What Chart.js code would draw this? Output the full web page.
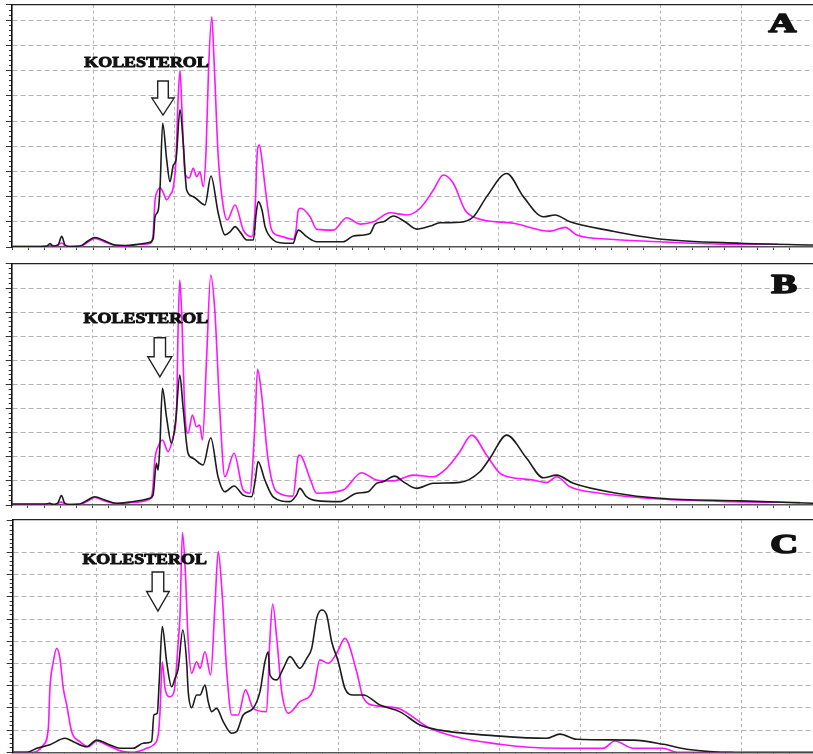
<!DOCTYPE html>
<html>
<head>
<meta charset="utf-8">
<script src="https://cdn.jsdelivr.net/npm/chart.js@4.4.1/dist/chart.umd.min.js"></script>
<style>
  html, body { margin: 0; padding: 0; background: #fff; }
  body { width: 813px; height: 754px; position: relative; overflow: hidden; }
  canvas { position: absolute; left: 0; }
  #chartA { top: 0; }
  #chartB { top: 255px; }
  #chartC { top: 512px; }
</style>
</head>
<body>
<canvas id="chartA" width="813" height="252"></canvas>
<canvas id="chartB" width="813" height="255"></canvas>
<canvas id="chartC" width="813" height="242"></canvas>
<script>
// retention time (min) and detector response
const timeBlackA = [0, 1.73, 2.16, 2.35, 2.53, 2.84, 3.07, 3.27, 3.58, 4.2, 4.69, 5.12, 5.74, 6.36, 6.98, 7.9, 8.52, 8.72, 8.83, 9.03, 9.14, 9.30, 9.55, 9.75, 9.96, 10.12, 10.37, 10.57, 10.78, 11.19, 11.91, 12.28, 12.73, 13.15, 13.46, 13.77, 14.07, 14.49, 14.9, 15.06, 15.2, 15.43, 15.62, 16.13, 16.54, 17.36, 17.53, 17.67, 18.19, 18.81, 20.45, 21.07, 22.1, 22.41, 22.92, 23.54, 24.26, 24.98, 25.8, 26.42, 27.65, 28.48, 29.3, 30.54, 31.56, 32.8, 33.52, 34.44, 36.91, 39.96, 44.98, 49.44];
const blackA = [0.2, 0.2, 0.4, 1.4, 0.4, 0.8, 4.2, 0.8, 0.2, 0.4, 2.4, 3.8, 2.4, 0.8, 0.6, 1.2, 1.9, 3.5, 12.0, 14.7, 23.9, 49.1, 34.5, 25.9, 32.5, 34.5, 54.6, 41.2, 22.6, 20.0, 16.7, 28.2, 13.4, 4.8, 6.0, 8.1, 6.0, 2.8, 2.8, 12.7, 18.0, 14.7, 8.1, 2.8, 1.7, 1.5, 4.8, 6.7, 4.1, 2.1, 2.1, 4.4, 5.4, 9.1, 10.0, 12.3, 10.0, 7.1, 8.3, 9.6, 9.8, 12.0, 20.0, 29.2, 20.0, 12.0, 12.7, 10.0, 6.5, 3.2, 1.5, 0.8];
const timeMagentaA = [0, 2.04, 2.35, 2.65, 3.07, 3.33, 4.2, 4.69, 5.12, 5.74, 6.36, 6.98, 7.9, 8.52, 8.7, 8.83, 8.95, 9.14, 9.32, 9.55, 9.75, 9.96, 10.12, 10.25, 10.37, 10.49, 10.68, 10.93, 11.19, 11.4, 11.6, 11.8, 11.98, 12.13, 12.33, 12.47, 12.73, 13.04, 13.28, 13.77, 14.28, 14.8, 15.0, 15.15, 15.27, 15.43, 15.62, 16.03, 16.54, 17.36, 17.53, 17.67, 17.82, 18.4, 18.81, 19.83, 20.66, 21.48, 22.3, 23.33, 24.36, 25.19, 26.01, 26.62, 27.24, 27.96, 28.69, 30.94, 33.21, 34.14, 34.86, 36.91, 39.96, 44.51, 47.28];
const magentaA = [0.2, 0.2, 0.8, 0.2, 1.6, 0.2, 0.2, 2.0, 3.4, 2.0, 0.6, 0.4, 1.0, 1.4, 4.4, 18.7, 21.8, 23.5, 21.8, 18.7, 20.6, 23.9, 34.5, 58.3, 70.2, 54.4, 29.2, 27.4, 31.2, 27.9, 29.9, 23.9, 38.5, 70.2, 91.4, 74.2, 35.8, 16.0, 10.7, 16.7, 6.7, 4.1, 14.7, 38.5, 40.5, 34.5, 23.9, 6.7, 4.4, 3.1, 6.7, 14.7, 15.4, 12.0, 7.0, 6.7, 11.6, 9.1, 10.0, 13.6, 12.7, 15.4, 22.6, 28.6, 25.3, 14.7, 11.4, 9.4, 6.3, 7.8, 4.8, 3.1, 2.1, 1.1, 1.1];

const timeBlackB = [0, 2.04, 2.35, 2.53, 2.84, 3.07, 3.27, 3.58, 4.2, 4.69, 5.12, 5.74, 6.46, 7.28, 8.52, 8.72, 8.93, 9.03, 9.14, 9.30, 9.55, 9.86, 10.12, 10.37, 10.57, 10.88, 11.19, 11.81, 12.28, 12.73, 13.15, 13.72, 14.28, 14.8, 15.03, 15.2, 15.62, 16.13, 17.16, 17.57, 17.78, 18.15, 18.81, 20.25, 21.28, 21.99, 22.51, 22.92, 23.64, 24.15, 24.98, 26.01, 27.65, 28.89, 29.51, 30.54, 31.77, 32.8, 33.62, 34.65, 37.33, 39.96, 44.98, 49.44];
const blackB = [0.4, 0.4, 0.7, 0.2, 0.8, 3.9, 0.8, 0.2, 0.4, 2.1, 3.4, 2.1, 0.7, 1.2, 2.8, 4.1, 17.3, 14.5, 24.2, 48.4, 36.6, 25.6, 35.3, 53.9, 40.8, 21.5, 19.4, 16.6, 27.9, 11.7, 5.5, 7.9, 4.1, 3.4, 10.4, 18.0, 10.4, 3.4, 1.4, 4.1, 6.9, 3.7, 1.8, 1.4, 4.9, 5.5, 9.0, 9.7, 12.0, 9.7, 6.9, 9.0, 9.4, 13.8, 19.4, 29.0, 19.4, 11.3, 12.4, 9.0, 4.9, 2.8, 1.7, 0.7];
const timeMagentaB = [0, 2.04, 2.35, 2.65, 3.07, 3.33, 4.2, 4.69, 5.12, 5.74, 6.46, 7.28, 8.52, 8.7, 8.83, 9.03, 9.30, 9.65, 9.96, 10.17, 10.27, 10.37, 10.48, 10.68, 10.88, 11.15, 11.4, 11.6, 11.77, 12.02, 12.28, 12.53, 12.84, 13.15, 13.72, 14.28, 14.69, 15.0, 15.17, 15.41, 15.82, 16.34, 17.36, 17.67, 17.78, 18.4, 18.81, 20.45, 21.59, 22.51, 23.54, 24.77, 26.01, 26.83, 27.65, 28.38, 29.3, 30.12, 30.94, 32.18, 33.01, 33.62, 34.44, 36.3, 39.96, 44.52, 48.64];
const magentaB = [0.2, 0.2, 0.6, 0.2, 1.2, 0.2, 0.2, 1.7, 3.1, 1.7, 0.6, 1.0, 2.5, 6.2, 18.7, 24.2, 27.0, 22.1, 28.3, 39.4, 74.0, 93.4, 80.9, 39.4, 29.8, 37.3, 32.5, 33.2, 27.0, 60.2, 95.4, 80.9, 39.4, 11.7, 21.5, 6.2, 4.9, 32.5, 56.3, 46.3, 18.7, 5.5, 3.7, 20.0, 20.7, 11.1, 4.9, 6.2, 13.4, 10.4, 10.0, 12.4, 11.7, 15.2, 22.1, 29.0, 20.7, 13.2, 11.3, 10.4, 9.3, 11.7, 7.6, 4.9, 2.5, 1.4, 1.0];

const timeBlackC = [-0.17, 0.66, 1.28, 2.1, 3.03, 3.55, 4.38, 5.0, 5.83, 6.45, 7.27, 7.89, 8.41, 8.55, 8.76, 8.88, 9.07, 9.34, 9.65, 9.86, 10.06, 10.34, 10.58, 10.68, 10.89, 11.2, 11.41, 11.72, 11.92, 12.13, 12.44, 12.85, 13.37, 13.68, 14.09, 14.71, 15.13, 15.44, 15.64, 15.75, 16.17, 16.58, 16.99, 17.61, 18.03, 18.34, 18.65, 18.96, 19.27, 19.58, 19.99, 20.4, 20.92, 21.54, 22.57, 23.82, 25.06, 26.3, 30.02, 32.9, 33.74, 34.78, 38.29, 40.15, 41.6, 44.49, 49.44];
const blackC = [0, 0, 1.8, 3.4, 6.3, 4.8, 2.5, 5.5, 3.3, 1.8, 1.8, 4.1, 4.8, 16.8, 17.6, 31.8, 56.6, 40.8, 29.5, 33.3, 37.8, 55.1, 40.8, 27.3, 20.1, 25.8, 25.8, 30.3, 22.8, 18.3, 19.8, 13.8, 8.6, 9.3, 16.8, 19.8, 27.3, 40.8, 45.3, 34.8, 32.6, 37.8, 43.1, 37.8, 42.3, 46.8, 60.4, 64.1, 61.8, 49.8, 40.8, 28.8, 25.8, 25.8, 21.3, 18.2, 12.3, 10.0, 7.3, 6.3, 8.2, 5.9, 5.5, 3.6, 1.4, 0, 0];
const timeMagentaC = [-0.17, 1.07, 1.69, 2.0, 2.1, 2.31, 2.52, 2.72, 2.93, 3.14, 3.45, 3.96, 4.48, 5.0, 5.62, 6.65, 7.27, 8.1, 8.51, 8.82, 8.93, 9.07, 9.24, 9.55, 9.8, 10.06, 10.17, 10.32, 10.48, 10.68, 10.89, 11.2, 11.41, 11.72, 12.07, 12.34, 12.54, 12.76, 13.07, 13.38, 13.78, 14.23, 14.71, 15.54, 15.75, 15.92, 16.17, 16.48, 16.89, 17.61, 18.44, 18.85, 19.37, 19.89, 20.4, 21.13, 21.54, 22.37, 23.2, 23.82, 25.68, 30.02, 33.74, 36.42, 37.15, 38.29, 40.15, 40.98, 44.49];
const magentaC = [0, 0, 3.3, 10.8, 28.8, 40.8, 46.8, 42.3, 28.8, 21.3, 9.3, 4.8, 2.5, 5.1, 3.3, 0.3, 0, 1.8, 3.3, 7.8, 18.3, 40.8, 28.8, 25.0, 27.3, 49.8, 61.8, 99.0, 84.4, 49.8, 35.6, 40.8, 37.8, 45.3, 34.8, 66.4, 90.4, 73.9, 36.3, 16.8, 16.8, 28.1, 19.8, 18.3, 51.4, 66.8, 51.4, 27.3, 17.6, 22.8, 28.1, 41.6, 40.1, 44.6, 51.3, 36.3, 24.5, 20.9, 20.4, 19.5, 10.8, 3.6, 1.8, 1.8, 5.1, 1.8, 1.8, 0, 0];

const panelLetters = ["A", "B", "C"];
const peakLabel = "KOLESTEROL";

function toPoints(xs, ys) {
    return xs.map((x, i) => ({ x: x, y: ys[i] }));
}

// draws text a little heavier than the installed weight gives
function heavyText(ctx, text, x, y, sx, font, stroke) {
    ctx.save();
    ctx.translate(x, y);
    ctx.scale(sx, 1);
    ctx.font = font;
    ctx.lineJoin = "round";
    ctx.lineWidth = stroke;
    ctx.strokeStyle = "#111";
    ctx.strokeText(text, 0, 0);
    ctx.fillText(text, 0, 0);
    ctx.restore();
}

// panel letter, KOLESTEROL label and the outlined arrow
const marksPlugin = {
    id: "panelMarks",
    afterDatasetsDraw(chart, args, o) {
        const ctx = chart.ctx;
        const area = chart.chartArea;
        const tx = chart.scales.x.getPixelForValue(o.tip[0]);
        const ty = chart.scales.y.getPixelForValue(o.tip[1]);
        const a = o.arrow;

        ctx.save();
        ctx.beginPath();
        ctx.moveTo(tx - a.shaftW / 2, ty - a.head - a.shaft);
        ctx.lineTo(tx + a.shaftW / 2, ty - a.head - a.shaft);
        ctx.lineTo(tx + a.shaftW / 2, ty - a.head);
        ctx.lineTo(tx + a.headW / 2, ty - a.head);
        ctx.lineTo(tx, ty);
        ctx.lineTo(tx - a.headW / 2, ty - a.head);
        ctx.lineTo(tx - a.shaftW / 2, ty - a.head);
        ctx.closePath();
        ctx.fillStyle = "#fff";
        ctx.fill();
        ctx.lineWidth = 1.4;
        ctx.strokeStyle = "#222";
        ctx.stroke();

        ctx.fillStyle = "#111";
        ctx.textAlign = "center";
        ctx.textBaseline = "alphabetic";
        heavyText(ctx, peakLabel, tx + o.text[0], ty + o.text[1], 1.28,
            "bold 14px 'Liberation Serif', 'DejaVu Serif', serif", 0.9);
        heavyText(ctx, o.letter, area.right + o.letterPos[0], area.top + o.letterPos[1], 1.38,
            "bold 28px 'Liberation Serif', 'DejaVu Serif', serif", 1.6);
        ctx.restore();
    }
};

const clear = "rgba(0,0,0,0)";
const isMultiple = (v, m) => Math.abs(v - Math.round(v)) < 1e-6 && Math.round(v) % m === 0;

function makePanel(p) {
    new Chart(document.getElementById(p.id), {
        type: "line",
        data: {
            datasets: [
                { data: toPoints(p.black[0], p.black[1]), borderColor: "#1c1c1c", borderWidth: 1.6 },
                { data: toPoints(p.magenta[0], p.magenta[1]), borderColor: "#ff14ff", borderWidth: 1.6 }
            ].map(d => Object.assign(d, {
                xAxisID: "x", yAxisID: "y", pointRadius: 0, fill: false,
                cubicInterpolationMode: "monotone"
            }))
        },
        options: {
            responsive: false,
            animation: false,
            events: [],
            layout: { autoPadding: false, padding: { top: p.padTop, left: 0, right: 0, bottom: 0 } },
            plugins: {
                legend: { display: false },
                tooltip: { enabled: false },
                panelMarks: p.marks
            },
            scales: {
                x: {
                    type: "linear", position: "bottom", min: p.xMin, max: p.xMax,
                    ticks: { display: false, stepSize: 1 },
                    grid: {
                        color: c => (c.tick && c.tick.value > 0.5 && isMultiple(c.tick.value, 5)) ? "#b4b4b4" : clear,
                        tickColor: "#444", tickLength: 3, lineWidth: 1
                    },
                    border: { color: "#555", width: 1.6, dash: [3, 3] },
                    afterFit: s => { s.height = p.bottomH; }
                },
                xTop: {
                    type: "linear", position: "top", min: 0, max: 1,
                    ticks: { display: false },
                    grid: { display: false, drawTicks: false },
                    border: { color: "#222", width: 1.3 },
                    afterFit: s => { s.height = 0; }
                },
                yMinor: {
                    type: "linear", position: "left", min: 0, max: p.yMax, weight: 0,
                    ticks: { display: false, stepSize: 2 },
                    grid: { drawOnChartArea: false, tickLength: 3, tickColor: "#333" },
                    border: { display: false },
                    afterFit: s => { s.width = 0; }
                },
                y: {
                    type: "linear", position: "left", min: 0, max: p.yMax, weight: 1,
                    ticks: { display: false, stepSize: 10 },
                    grid: {
                        color: c => (c.tick && c.tick.value > 0.5 && isMultiple(c.tick.value, 10)) ? "#b4b4b4" : clear,
                        tickColor: "#333", tickLength: 6, lineWidth: 1
                    },
                    border: { color: "#111", width: 1.6, dash: [5, 3] },
                    afterFit: s => { s.width = p.leftW; }
                }
            }
        },
        plugins: [marksPlugin]
    });
}

makePanel({
    id: "chartA", xMin: 0, xMax: 49.44, yMax: 96.2, padTop: 4.7, leftW: 12, bottomH: 5,
    black: [timeBlackA, blackA], magenta: [timeMagentaA, magentaA],
    marks: { letter: panelLetters[0], tip: [9.32, 52.4], text: [-16.5, -48.3], letterPos: [-30.5, 27],
             arrow: { shaft: 17, head: 17, shaftW: 10.6, headW: 22.3 } }
});

makePanel({
    id: "chartB", xMin: 0, xMax: 49.44, yMax: 100.3, padTop: 8.3, leftW: 11.7, bottomH: 5,
    black: [timeBlackB, blackB], magenta: [timeMagentaB, magentaB],
    marks: { letter: panelLetters[1], tip: [9.14, 53.2], text: [-14, -53.4], letterPos: [-28.8, 30],
             arrow: { shaft: 19, head: 20, shaftW: 11.4, headW: 24 } }
});

makePanel({
    id: "chartC", xMin: -0.21, xMax: 49.44, yMax: 104.6, padTop: 8, leftW: 12.7, bottomH: 1.7,
    black: [timeBlackC, blackC], magenta: [timeMagentaC, magentaC],
    marks: { letter: panelLetters[2], tip: [8.80, 63.6], text: [-13.3, -47], letterPos: [-28.8, 33],
             arrow: { shaft: 19.5, head: 19.5, shaftW: 11.6, headW: 22.6 } }
});
</script>
</body>
</html>
